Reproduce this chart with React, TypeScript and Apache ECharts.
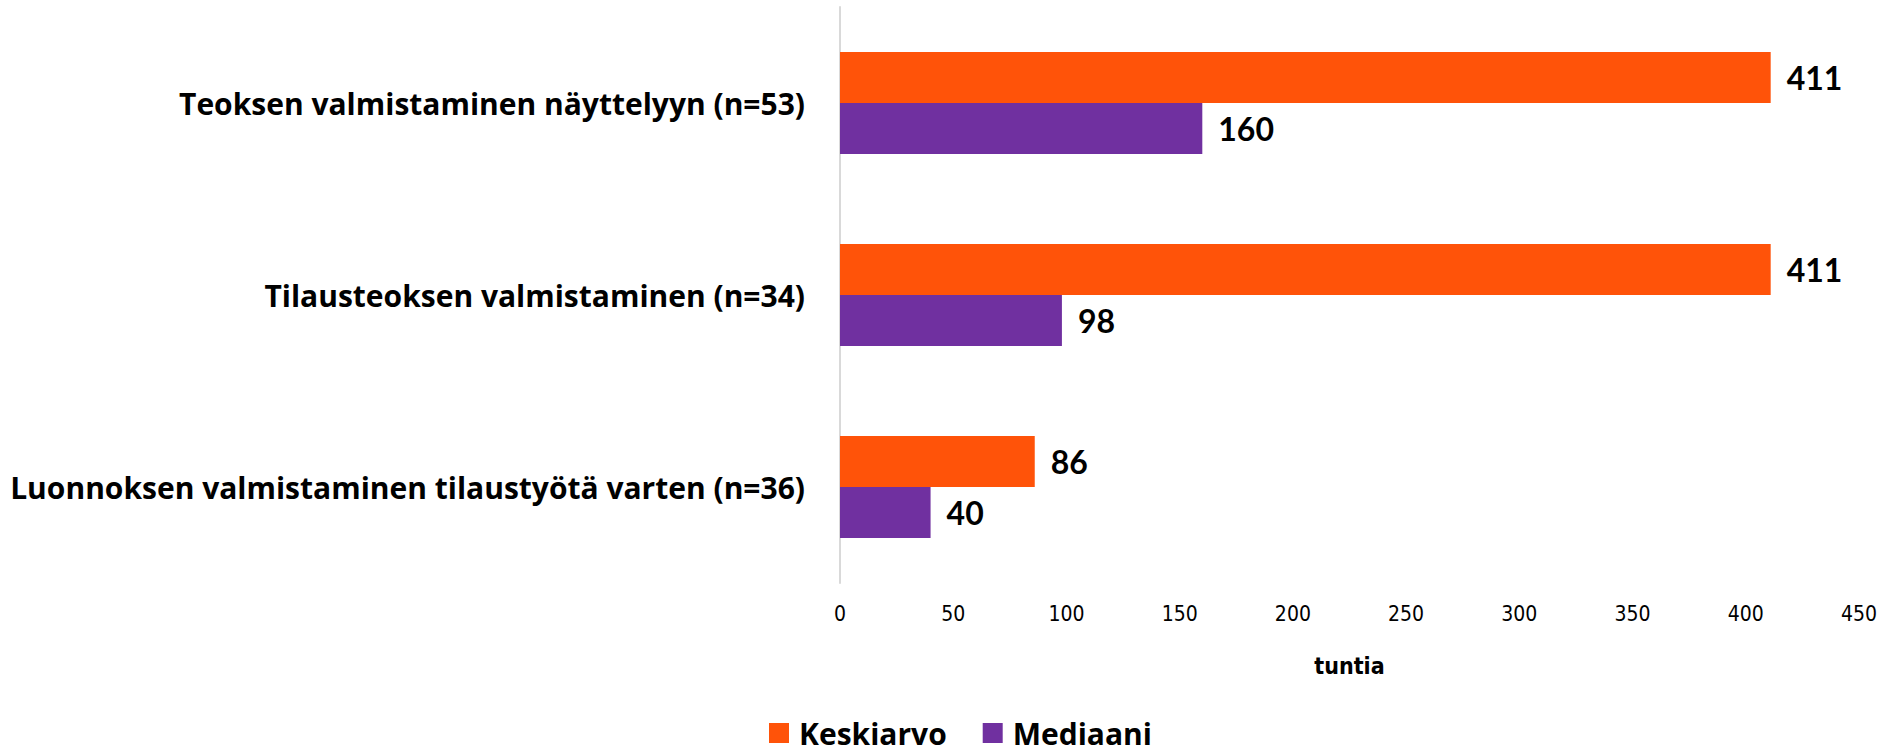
import React, { useEffect, useRef } from "react";
import * as echarts from "echarts";

const categories = [
  "Teoksen valmistaminen näyttelyyn (n=53)",
  "Tilausteoksen valmistaminen (n=34)",
  "Luonnoksen valmistaminen tilaustyötä varten (n=36)",
];
const seriesNames = ["Keskiarvo", "Mediaani"];
const keskiarvo = [411, 411, 86];
const mediaani = [160, 98, 40];
const axisName = "tuntia";

const ORANGE = "#FF5309";
const PURPLE = "#7030A0";
const FONT = "Lato, 'Noto Sans', sans-serif";
const CAT_FONT = "'Open Sans', 'Noto Sans', sans-serif";
const NARROW = "'Liberation Sans Narrow', 'DejaVu Sans Condensed', 'Noto Sans', sans-serif";

export default function App() {
  const ref = useRef<HTMLDivElement>(null);
  useEffect(() => {
    const chart = echarts.init(ref.current!, null, { renderer: "svg" });
    const label = {
      show: true,
      position: "right" as const,
      distance: 16,
      color: "#000",
      fontFamily: FONT,
      fontWeight: "bold" as const,
      fontSize: 32,
    };
    chart.setOption({
      animation: false,
      backgroundColor: "#fff",
      grid: { left: 840, right: 31, top: 7, bottom: 166, containLabel: false },
      legend: {
        data: seriesNames,
        left: 769,
        top: 718,
        padding: 0,
        itemWidth: 20,
        itemHeight: 20,
        itemGap: 36,
        icon: "rect",
        textStyle: {
          fontFamily: CAT_FONT,
          fontWeight: "bold",
          fontSize: 30,
          color: "#000",
          lineHeight: 28,
          padding: [0, 0, 0, 5],
        },
      },
      xAxis: {
        type: "value",
        min: 0,
        max: 450,
        interval: 50,
        axisLine: { show: false },
        axisTick: { show: false },
        splitLine: { show: false },
        axisLabel: { fontFamily: NARROW, fontSize: 21, color: "#000", margin: 20 },
        name: axisName,
        nameLocation: "middle",
        nameGap: 71,
        nameTextStyle: { fontFamily: NARROW, fontWeight: "bold", fontSize: 23, color: "#000" },
      },
      yAxis: {
        type: "category",
        data: categories,
        inverse: true,
        axisLine: { show: true, lineStyle: { color: "#D9D9D9", width: 2 } },
        axisTick: { show: false },
        axisLabel: {
          fontFamily: CAT_FONT,
          fontWeight: "bold",
          fontSize: 30,
          color: "#000",
          margin: 35,
        },
      },
      series: [
        {
          name: seriesNames[0],
          type: "bar",
          data: keskiarvo,
          itemStyle: { color: ORANGE },
          barGap: "0%",
          barCategoryGap: "47%",
          label,
        },
        {
          name: seriesNames[1],
          type: "bar",
          data: mediaani,
          itemStyle: { color: PURPLE },
          barGap: "0%",
          barCategoryGap: "47%",
          label,
        },
      ],
    });
    return () => chart.dispose();
  }, []);
  return (
    <div
      ref={ref}
      style={{ position: "fixed", left: 0, top: 0, width: 1890, height: 749 }}
    />
  );
}
